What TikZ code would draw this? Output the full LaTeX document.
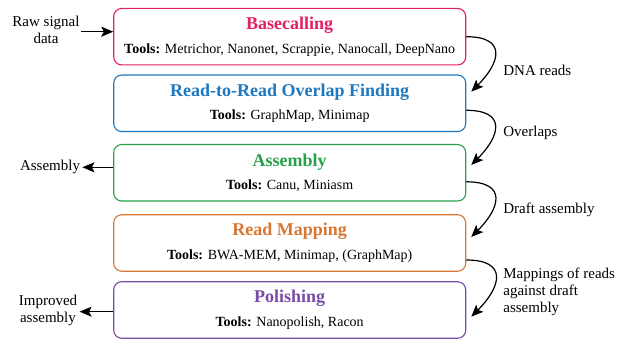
\documentclass[tikz,border=0pt]{standalone}
\usepackage{fontspec}
\setmainfont{Liberation Serif}
\usetikzlibrary{arrows.meta,positioning}

\definecolor{basecol}{RGB}{228,30,102}
\definecolor{overcol}{RGB}{30,120,192}
\definecolor{asmcol}{RGB}{40,160,75}
\definecolor{mapcol}{RGB}{215,118,48}
\definecolor{polcol}{RGB}{122,74,168}

\begin{document}
\begin{tikzpicture}[x=1pt,y=-1pt,thick,
  flow/.style={-{Stealth[length=12pt,width=10pt,inset=2.5pt]}},
  stage/.style={draw,rounded corners=8pt,line width=1.1pt,minimum width=352pt,
    minimum height=56.5pt,align=center,inner sep=0pt},
  note/.style={font=\fontsize{15}{17}\selectfont,align=left,inner sep=0pt}]

  \useasboundingbox (0,0) rectangle (624,339);

  \node[stage,draw=basecol] (1) at (289.7,36.7)
    {{\color{basecol}\fontsize{18}{20}\selectfont\bfseries Basecalling}\\[9pt]
     {\fontsize{14}{16}\selectfont\textbf{Tools:} Metrichor, Nanonet, Scrappie, Nanocall, DeepNano}};
  \node[stage,draw=overcol] (2) at (289.7,103.3)
    {{\color{overcol}\fontsize{18}{20}\selectfont\bfseries Read-to-Read Overlap Finding}\\[9pt]
     {\fontsize{14}{16}\selectfont\textbf{Tools:} GraphMap, Minimap}};
  \node[stage,draw=asmcol] (3) at (289.7,172.8)
    {{\color{asmcol}\fontsize{18}{20}\selectfont\bfseries Assembly}\\[9pt]
     {\fontsize{14}{16}\selectfont\textbf{Tools:} Canu, Miniasm}};
  \node[stage,draw=mapcol] (4) at (289.7,243)
    {{\color{mapcol}\fontsize{18}{20}\selectfont\bfseries Read Mapping}\\[9pt]
     {\fontsize{14}{16}\selectfont\textbf{Tools:} BWA-MEM, Minimap, (GraphMap)}};
  \node[stage,draw=polcol] (5) at (289.7,310)
    {{\color{polcol}\fontsize{18}{20}\selectfont\bfseries Polishing}\\[9pt]
     {\fontsize{14}{16}\selectfont\textbf{Tools:} Nanopolish, Racon}};

  \node[note,align=center] (raw) at (46,30) {Raw signal\\data};
  \node[note] (asmout) at (50,167.3) {Assembly};
  \node[note,align=center] (impout) at (48,310) {Improved\\assembly};

  \coordinate (rawin) at (113.3,31.7);
  \coordinate (impin) at (113.3,311.7);

  \node[note,anchor=west] (l1) at (503,70) {DNA reads};
  \node[note,anchor=west] (l2) at (503,133) {Overlaps};
  \node[note,anchor=west] (l3) at (503,210) {Draft assembly};
  \node[note,anchor=west] (l4) at (503,292.3) {Mappings of reads\\against draft\\assembly};

  \path[line width=1.5pt]
    ([xshift=1pt]raw.east |- rawin) edge[flow] (rawin)
    (3.west |- asmout.east) edge[flow] ([xshift=2pt]asmout.east)
    (impin) edge[flow] ([xshift=2pt]impout.east |- impin);

  \path[line width=1.2pt,every edge/.style={draw,flow,out=0,in=45,looseness=1.9}]
    (1.east) edge ([xshift=5pt,yshift=11.6pt]2.east)
    ([yshift=-7pt]2.east) edge ([xshift=5pt,yshift=7.8pt]3.east)
    ([yshift=-9pt]3.east) edge ([xshift=5pt,yshift=6pt]4.east)
    ([yshift=-17pt]4.east) edge ([xshift=5pt,yshift=-6.7pt]5.east);
\end{tikzpicture}
\end{document}
